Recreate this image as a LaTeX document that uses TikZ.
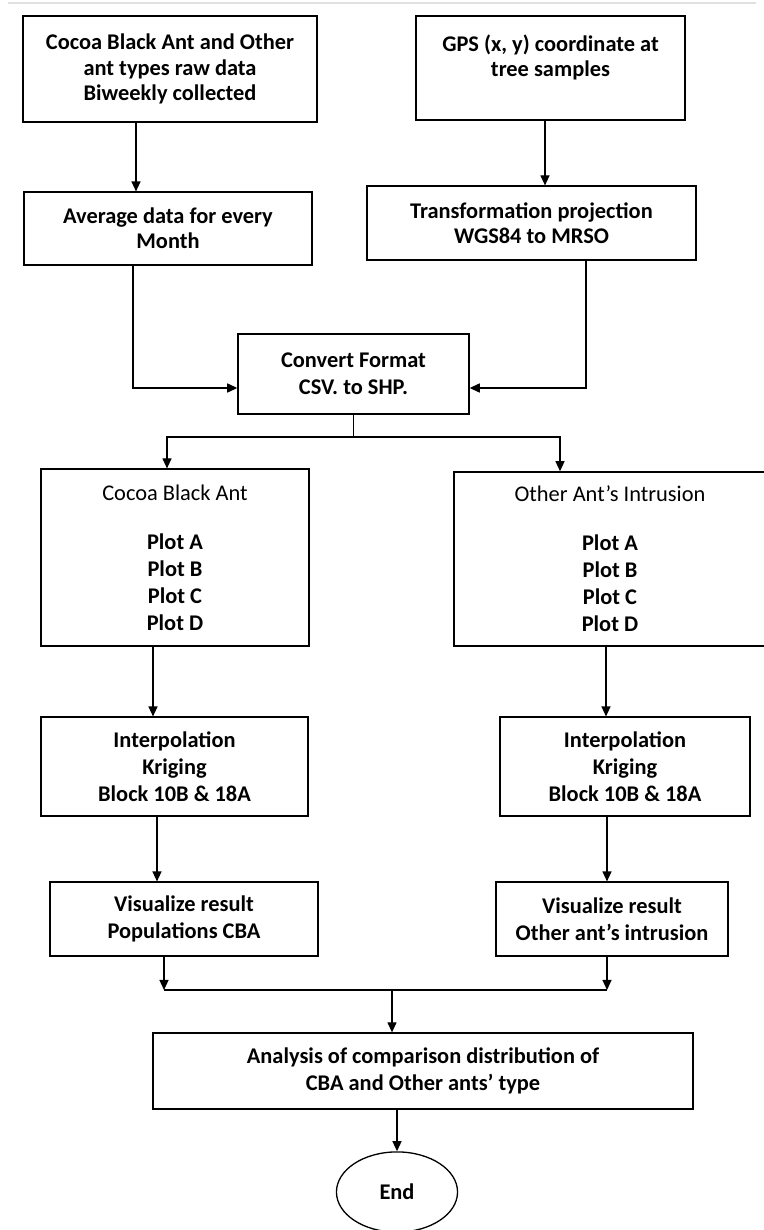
\documentclass[tikz,border=0pt]{standalone}
\usepackage{fontspec}
\setmainfont{Carlito}
\usetikzlibrary{arrows.meta,shapes.geometric}

\begin{document}
\begin{tikzpicture}[x=0.01883cm,y=-0.01883cm,
  box/.style={draw,line width=0.7pt,align=center,inner sep=0pt,font=\bfseries\fontsize{12}{14.5}\selectfont},
  topbox/.style={box,font=\bfseries\fontsize{12}{13.5}\selectfont},
  arr/.style={line width=0.7pt,-{Triangle[length=1.9mm,width=1.7mm]}},
  line/.style={line width=0.7pt}]
  \useasboundingbox (0,0) rectangle (764,1230);
  \clip (0,0) rectangle (764,1230);
  \draw[black!12,line width=1.2pt] (8,3) -- (756,3);

  \node[topbox,minimum width=5.54cm,minimum height=2.00cm] (raw) at (170,69) {Cocoa Black Ant and Other\\ant types raw data\\Biweekly collected};
  \node[topbox,minimum width=5.07cm,minimum height=1.96cm] (gps) at (550.5,68) {GPS (x, y) coordinate at\\tree samples\\\mbox{}};
  \node[topbox,minimum width=5.42cm,minimum height=1.37cm] (avg) at (168,228.5) {Average data for every\\Month};
  \node[topbox,minimum width=6.20cm,minimum height=1.39cm] (proj) at (531.5,223) {Transformation projection\\WGS84 to MRSO};
  \node[box,minimum width=4.35cm,minimum height=1.51cm] (conv) at (353.5,374) {Convert Format\\CSV. to SHP.};
  \node[box,minimum width=5.05cm,minimum height=3.33cm] (cba) at (175,557.5) {{\mdseries Cocoa Black Ant}\\[11.7pt]Plot A\\Plot B\\Plot C\\Plot D};
  \node[box,minimum width=5.88cm,minimum height=3.28cm] (oth) at (610,559) {{\mdseries Other Ant’s Intrusion}\\[11.7pt]Plot A\\Plot B\\Plot C\\Plot D};
  \node[box,minimum width=5.03cm,minimum height=1.86cm] (krigA) at (174.5,766.5) {Interpolation\\Kriging\\Block 10B \& 18A};
  \node[box,minimum width=4.71cm,minimum height=1.86cm] (krigB) at (625,766.5) {Interpolation\\Kriging\\Block 10B \& 18A};
  \node[box,minimum width=5.05cm,minimum height=1.39cm] (visA) at (184,919) {Visualize result\\Populations CBA};
  \node[box,minimum width=4.37cm,minimum height=1.39cm] (visB) at (612,919) {Visualize result\\Other ant’s intrusion};
  \node[box,minimum width=10.17cm,minimum height=1.43cm] (ana) at (423,1071) {Analysis of comparison distribution of\\CBA and Other ants’ type};
  \node[box,ellipse,minimum width=2.28cm,minimum height=1.51cm] (end) at (397,1192) {End};

  \coordinate (tA) at (136,150);
  \coordinate (tB) at (545,150);
  \coordinate (jA) at (133,388);
  \coordinate (jB) at (586,388);
  \coordinate (sA) at (167,437);
  \coordinate (sB) at (560,437);
  \coordinate (pA) at (153,680);
  \coordinate (pB) at (606,680);
  \coordinate (qA) at (157,850);
  \coordinate (qB) at (607,850);
  \coordinate (mA) at (164,990);
  \coordinate (mB) at (607,990);
  \coordinate (mC) at (392,990);

  \draw[arr] (raw.south -| tA) -- (avg.north -| tA);
  \draw[arr] (gps.south -| tB) -- (proj.north -| tB);
  \draw[arr] (avg.south -| jA) -- (jA) -- (conv.west |- jA);
  \draw[arr] (proj.south -| jB) -- (jB) -- (conv.east |- jB);
  \draw[arr] (conv.south) |- (sA) -- (cba.north -| sA);
  \draw[arr] (conv.south) |- (sB) -- (oth.north -| sB);
  \draw[arr] (cba.south -| pA) -- (krigA.north -| pA);
  \draw[arr] (oth.south -| pB) -- (krigB.north -| pB);
  \draw[arr] (krigA.south -| qA) -- (visA.north -| qA);
  \draw[arr] (krigB.south -| qB) -- (visB.north -| qB);
  \draw[arr] (visA.south -| mA) -- (mA);
  \draw[arr] (visB.south -| mB) -- (mB);
  \draw[line] (mA) -- (mB);
  \draw[arr] (mC) -- (ana.north -| mC);
  \draw[arr] (ana.south -| end.north) -- (end.north);
\end{tikzpicture}
\end{document}
